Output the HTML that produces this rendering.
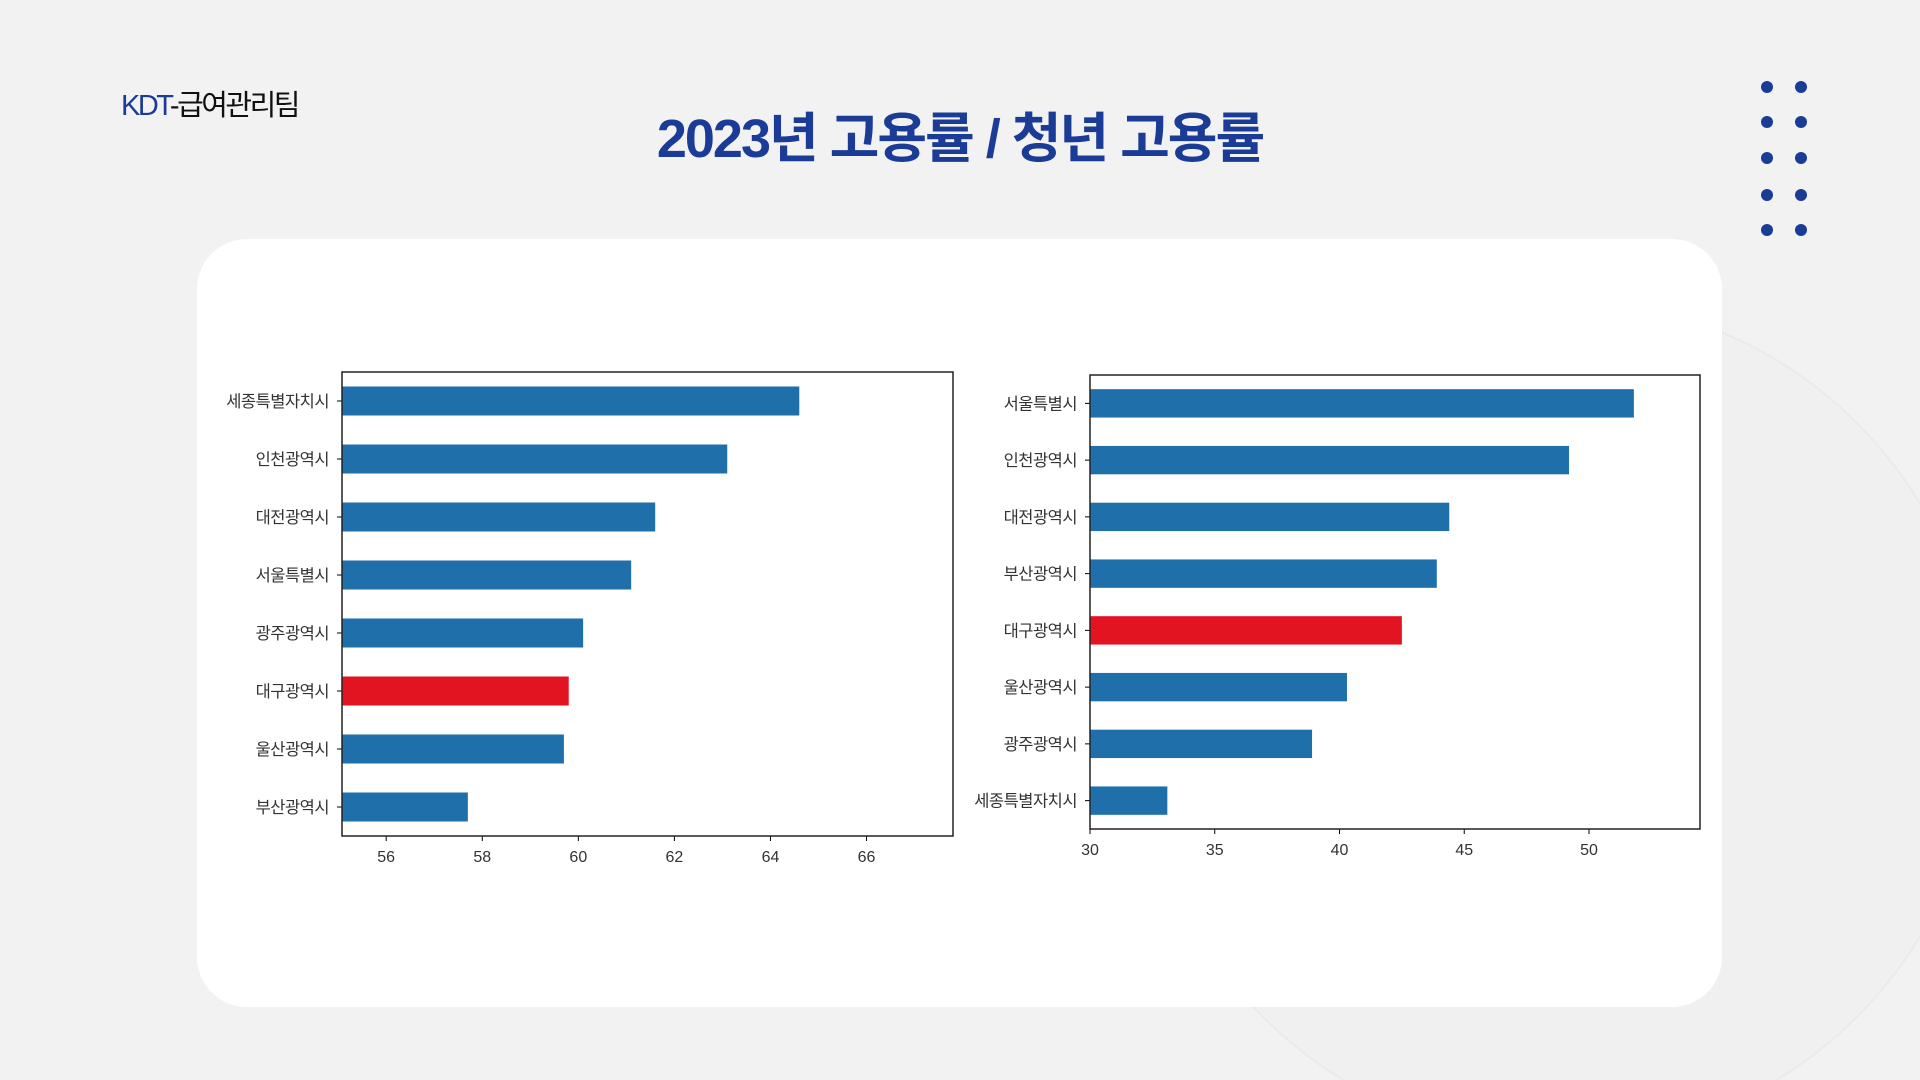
<!DOCTYPE html>
<html><head><meta charset="utf-8"><style>
html,body{margin:0;padding:0;width:1920px;height:1080px;overflow:hidden;background:#f3f2f3;font-family:"Liberation Sans","Noto Sans CJK KR",sans-serif}
svg{display:block}
</style></head><body>
<svg id="s" width="1920" height="1080" viewBox="0 0 1920 1080" xmlns="http://www.w3.org/2000/svg">
<circle cx="1560" cy="720" r="420" fill="#f1f0f1" stroke="#ebe9eb" stroke-width="2"/>
<rect x="197" y="239" width="1525" height="768" rx="50" fill="#ffffff"/>
<text x="121" y="115" font-size="29" letter-spacing="-2.5" font-family="Liberation Sans,Noto Sans CJK KR,sans-serif"><tspan fill="#1b3c96">KDT</tspan><tspan fill="#111">-급여관리팀</tspan></text>
<text x="960" y="157" text-anchor="middle" font-size="54" font-weight="bold" letter-spacing="-2" fill="#1b3c96" font-family="Liberation Sans,Noto Sans CJK KR,sans-serif">2023년 고용률 / 청년 고용률</text>
<g id="dots"></g>
<g id="c1"></g>
<g id="c2"></g>
</svg>
<script>
const cats1=["세종특별자치시","인천광역시","대전광역시","서울특별시","광주광역시","대구광역시","울산광역시","부산광역시"];
const vals1=[64.6,63.1,61.6,61.1,60.1,59.8,59.7,57.7];
const ticks1=[56,58,60,62,64,66];
const cats2=["서울특별시","인천광역시","대전광역시","부산광역시","대구광역시","울산광역시","광주광역시","세종특별자치시"];
const vals2=[51.8,49.2,44.4,43.9,42.5,40.3,38.9,33.1];
const ticks2=[30,35,40,45,50];
const NS="http://www.w3.org/2000/svg";
function mk(p,t,a){const e=document.createElementNS(NS,t);for(const k in a)e.setAttribute(k,a[k]);p.appendChild(e);return e;}
const dg=document.getElementById('dots');
[87,122,158,195,230].forEach(y=>[1767,1801].forEach(x=>{
 const c=mk(dg,'circle',{cx:x,cy:y,r:6,fill:'#1b3c96'});
 
 
}));
function chart(g,cats,vals,ticks,L,T,R,B,xmin,xmax){
 const xs=v=>L+(v-xmin)/(xmax-xmin)*(R-L);
 const band=(B-T)/cats.length;
 cats.forEach((c,i)=>{
  const cy=T+band*(i+0.5);
  const r=mk(g,'rect',{x:L,y:cy-band/4,width:xs(vals[i])-L,height:band/2,fill:c==="대구광역시"?"#e31422":"#1f6fab"});
  
  
  const tk=mk(g,'line',{x1:L-5,x2:L,y1:cy,y2:cy,stroke:'#000','stroke-width':1});
  
  
  const t=mk(g,'text',{x:L-13,y:cy+6,'text-anchor':'end','font-size':16.5,'letter-spacing':-0.5,fill:'#333'});
  t.textContent=c;
  
  
 });
 ticks.forEach(v=>{
  const x=xs(v);
  const tk=mk(g,'line',{x1:x,x2:x,y1:B,y2:B+5,stroke:'#000','stroke-width':1});
  
  
  const t=mk(g,'text',{x:x,y:B+26,'text-anchor':'middle','font-size':16,fill:'#333'});
  t.textContent=v;
  
  
 });
 const f=mk(g,'rect',{x:L,y:T,width:R-L,height:B-T,fill:'none',stroke:'#222','stroke-width':1.5});
 
 
}
chart(document.getElementById('c1'),cats1,vals1,ticks1,342,372,953,836,55.08,67.8);
chart(document.getElementById('c2'),cats2,vals2,ticks2,1090,375,1700,829,30,54.45);
</script>
</body></html>
